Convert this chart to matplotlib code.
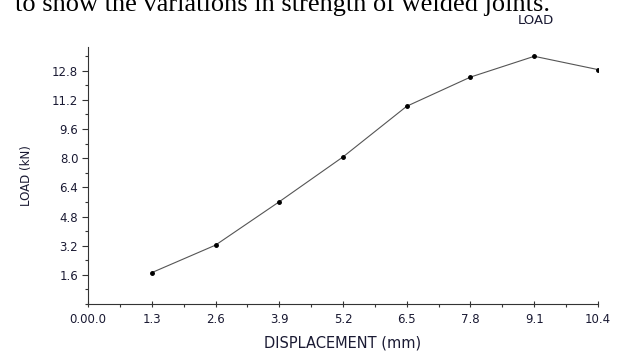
import matplotlib.pyplot as plt
from matplotlib.ticker import MultipleLocator

# valores
desloc = [1.3, 2.6, 3.9, 5.2, 6.5, 7.8, 9.1, 10.4]
carga = [1.72, 3.23, 5.61, 8.07, 10.85, 12.45, 13.59, 12.86]

xticks = [0, 1.3, 2.6, 3.9, 5.2, 6.5, 7.8, 9.1, 10.4]
xlabels = ['0.00.0', '1.3', '2.6', '3.9', '5.2', '6.5', '7.8', '9.1', '10.4']
yticks = [1.6, 3.2, 4.8, 6.4, 8.0, 9.6, 11.2, 12.8]
ylabels = ['1.6', '3.2', '4.8', '6.4', '8.0', '9.6', '11.2', '12.8']

cor_txt = '#1a1a33'

fig = plt.figure(figsize=(6.27, 3.52), dpi=100)
ax = fig.add_axes([88/627, 1 - 304/352, (598 - 88)/627, (304 - 47)/352])

ax.plot(desloc, carga, color='#555555', lw=0.8, marker='o', ms=2.5,
        mfc='black', mec='black')

ax.set_xlim(0, 10.4)
ax.set_ylim(0, 14.1)
ax.set_xticks(xticks)
ax.set_xticklabels(xlabels)
ax.set_yticks(yticks)
ax.set_yticklabels(ylabels)
ax.xaxis.set_minor_locator(MultipleLocator(0.65))
ax.yaxis.set_minor_locator(MultipleLocator(0.8))

ax.spines['top'].set_visible(False)
ax.spines['right'].set_visible(False)
for s in ['left', 'bottom']:
    ax.spines[s].set_color('#333333')
    ax.spines[s].set_linewidth(0.8)

ax.tick_params(axis='x', which='major', direction='inout', length=5, width=0.8,
               labelsize=8.5, colors='#333333', labelcolor=cor_txt, pad=4)
ax.tick_params(axis='y', which='major', direction='out', length=4, width=0.8,
               labelsize=8.5, colors='#333333', labelcolor=cor_txt, pad=3)
ax.tick_params(which='minor', direction='out', length=2, width=0.8, colors='#333333')

ax.set_xlabel('DISPLACEMENT (mm)', fontsize=10.5, color=cor_txt, labelpad=7)
ax.set_ylabel('LOAD (kN)', fontsize=8.5, color=cor_txt, labelpad=14)

fig.text(536/627, 1 - 20/352, 'LOAD', fontsize=9.5, color=cor_txt,
         ha='center', va='center')
fig.text(15/627, 1 - 11/352, 'to show the variations in strength of welded joints.',
         fontsize=19, family='Liberation Serif', color='black', ha='left', va='baseline')

fig.savefig('out.png', dpi=100)
